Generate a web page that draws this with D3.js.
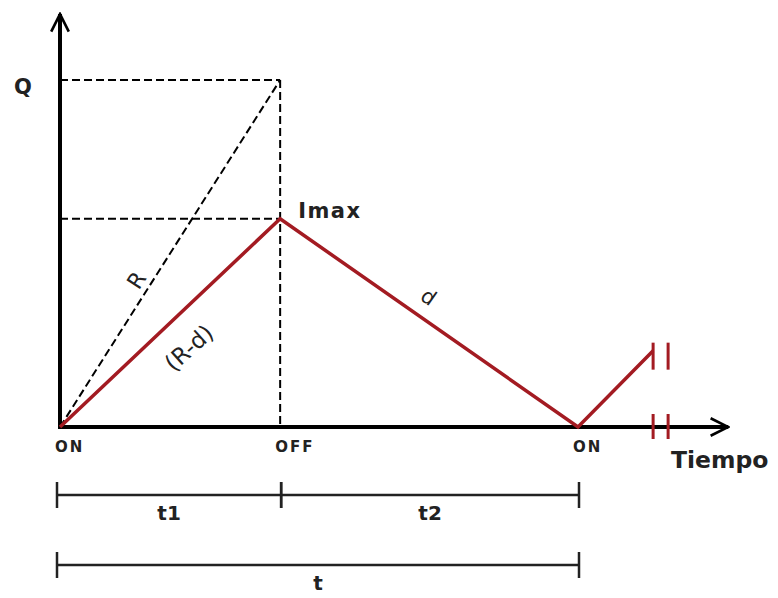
<!DOCTYPE html>
<html>
<head>
<meta charset="utf-8">
<script src="https://cdn.jsdelivr.net/npm/d3@7"></script>
<style>
  body { margin: 0; background: #fff; }
  svg text { font-family: "DejaVu Sans", Verdana, sans-serif; fill: #222; }
</style>
</head>
<body>
<svg id="chart" width="778" height="598"></svg>
<script>
// inventory cycle (time as fraction of cycle t, level as fraction of Q)
const cycleTimes = [0, 0.425, 1.0, 1.145];
const stockLevels = [0, 0.6, 0, 0.22];
const timeTicks = [0, 0.425, 1.0];
const tickLabels = ["ON", "OFF", "ON"];
const levelMarks = [1.0, 0.6];        // Q, Imax
const levelLabels = ["Q", "Imax"];
const intervals = [
    { from: 0, to: 0.425, label: "t1", row: 0 },
    { from: 0.425, to: 1.0, label: "t2", row: 0 },
    { from: 0, to: 1.0, label: "t", row: 1 }
];
const xMax = 1.29;     // end of time axis
const yMax = 1.19;     // end of Q axis
const breakAt = 1.145;

const red = "#a31b22";
const svg = d3.select("#chart");

const x = d3.scaleLinear().domain([0, 1]).range([60, 578]);
const y = d3.scaleLinear().domain([0, 1]).range([427, 80]);

const defs = svg.append("defs");
defs.append("marker")
    .attr("id", "arrow")
    .attr("viewBox", "0 0 10 10")
    .attr("refX", 9)
    .attr("refY", 5)
    .attr("markerWidth", 5.5)
    .attr("markerHeight", 5.5)
    .attr("markerUnits", "strokeWidth")
    .attr("orient", "auto")
    .append("path")
    .attr("d", "M 1 1 L 9 5 L 1 9")
    .attr("fill", "none")
    .attr("stroke", "#000")
    .attr("stroke-width", 1.2);

// dashed guides
const dash = svg.append("g")
    .attr("stroke", "#000")
    .attr("stroke-width", 2)
    .attr("stroke-dasharray", "8,4")
    .attr("fill", "none");

levelMarks.forEach(v => {
    dash.append("line")
        .attr("x1", x(0)).attr("x2", x(cycleTimes[1]))
        .attr("y1", y(v)).attr("y2", y(v));
});
dash.append("line")
    .attr("x1", x(cycleTimes[1])).attr("x2", x(cycleTimes[1]))
    .attr("y1", y(levelMarks[0])).attr("y2", y(0));
dash.append("line")
    .attr("x1", x(0)).attr("y1", y(0))
    .attr("x2", x(cycleTimes[1])).attr("y2", y(levelMarks[0]));

// axes
svg.append("line")
    .attr("x1", x(0)).attr("y1", y(0) + 2)
    .attr("x2", x(0)).attr("y2", y(yMax))
    .attr("stroke", "#000").attr("stroke-width", 4)
    .attr("marker-end", "url(#arrow)");
svg.append("line")
    .attr("x1", x(0) - 2).attr("y1", y(0))
    .attr("x2", x(xMax)).attr("y2", y(0))
    .attr("stroke", "#000").attr("stroke-width", 4)
    .attr("marker-end", "url(#arrow)");

// inventory line
const pts = cycleTimes.map((t, i) => [t, stockLevels[i]]);
svg.append("path")
    .datum(pts)
    .attr("d", d3.line().x(d => x(d[0])).y(d => y(d[1])))
    .attr("fill", "none")
    .attr("stroke", red)
    .attr("stroke-width", 3.5)
    .attr("stroke-linejoin", "miter");

// break marks
const brk = svg.append("g").attr("stroke", red).attr("stroke-width", 3);
[0, 15].forEach(off => {
    const bx = x(breakAt) + off;
    brk.append("line")
        .attr("x1", bx).attr("x2", bx)
        .attr("y1", y(stockLevels[3]) - 8).attr("y2", y(stockLevels[3]) + 19);
    brk.append("line")
        .attr("x1", bx).attr("x2", bx)
        .attr("y1", y(0) - 13).attr("y2", y(0) + 12);
});

// axis labels
svg.append("text")
    .attr("x", 23).attr("y", y(levelMarks[0]) + 14)
    .attr("text-anchor", "middle")
    .attr("font-size", 21).attr("font-weight", "bold")
    .text(levelLabels[0]);
svg.append("text")
    .attr("x", x(cycleTimes[1]) + 18).attr("y", y(levelMarks[1]) - 1)
    .attr("font-size", 21).attr("font-weight", "bold")
    .attr("letter-spacing", 1.5)
    .text(levelLabels[1]);
svg.append("text")
    .attr("x", 671).attr("y", 468)
    .attr("font-size", 23.5).attr("font-weight", "bold")
    .text("Tiempo");

timeTicks.forEach((t, i) => {
    svg.append("text")
        .attr("x", x(t) - 5).attr("y", y(0) + 25)
        .attr("font-size", 15).attr("font-weight", "bold")
        .attr("letter-spacing", 2)
        .text(tickLabels[i]);
});

// slope labels
function slopeLabel(txt, px, py, angle, size) {
    svg.append("text")
        .attr("transform", `translate(${px},${py}) rotate(${angle})`)
        .attr("text-anchor", "middle")
        .attr("dominant-baseline", "middle")
        .attr("font-size", size)
        .text(txt);
}
slopeLabel("R", 138, 281, -57, 22);
slopeLabel("(R-d)", 190, 349, -42, 23);
slopeLabel("d", 428, 298, 35, 21);

// interval brackets
const rowY = [495, 565];
const br = svg.append("g").attr("stroke", "#222").attr("stroke-width", 2.5);
intervals.forEach(iv => {
    const yy = rowY[iv.row];
    const x0 = iv.from === 0 ? x(0) - 3 : x(iv.from) + 1;
    const x1 = x(iv.to) + 1;
    br.append("line").attr("x1", x0).attr("x2", x1).attr("y1", yy).attr("y2", yy);
    [x0, x1].forEach(xx => {
        br.append("line").attr("x1", xx).attr("x2", xx)
            .attr("y1", yy - 13).attr("y2", yy + 13);
    });
    svg.append("text")
        .attr("x", (x0 + x1) / 2).attr("y", yy + 25)
        .attr("text-anchor", "middle")
        .attr("font-size", 20).attr("font-weight", "bold")
        .text(iv.label);
});
</script>
</body>
</html>
